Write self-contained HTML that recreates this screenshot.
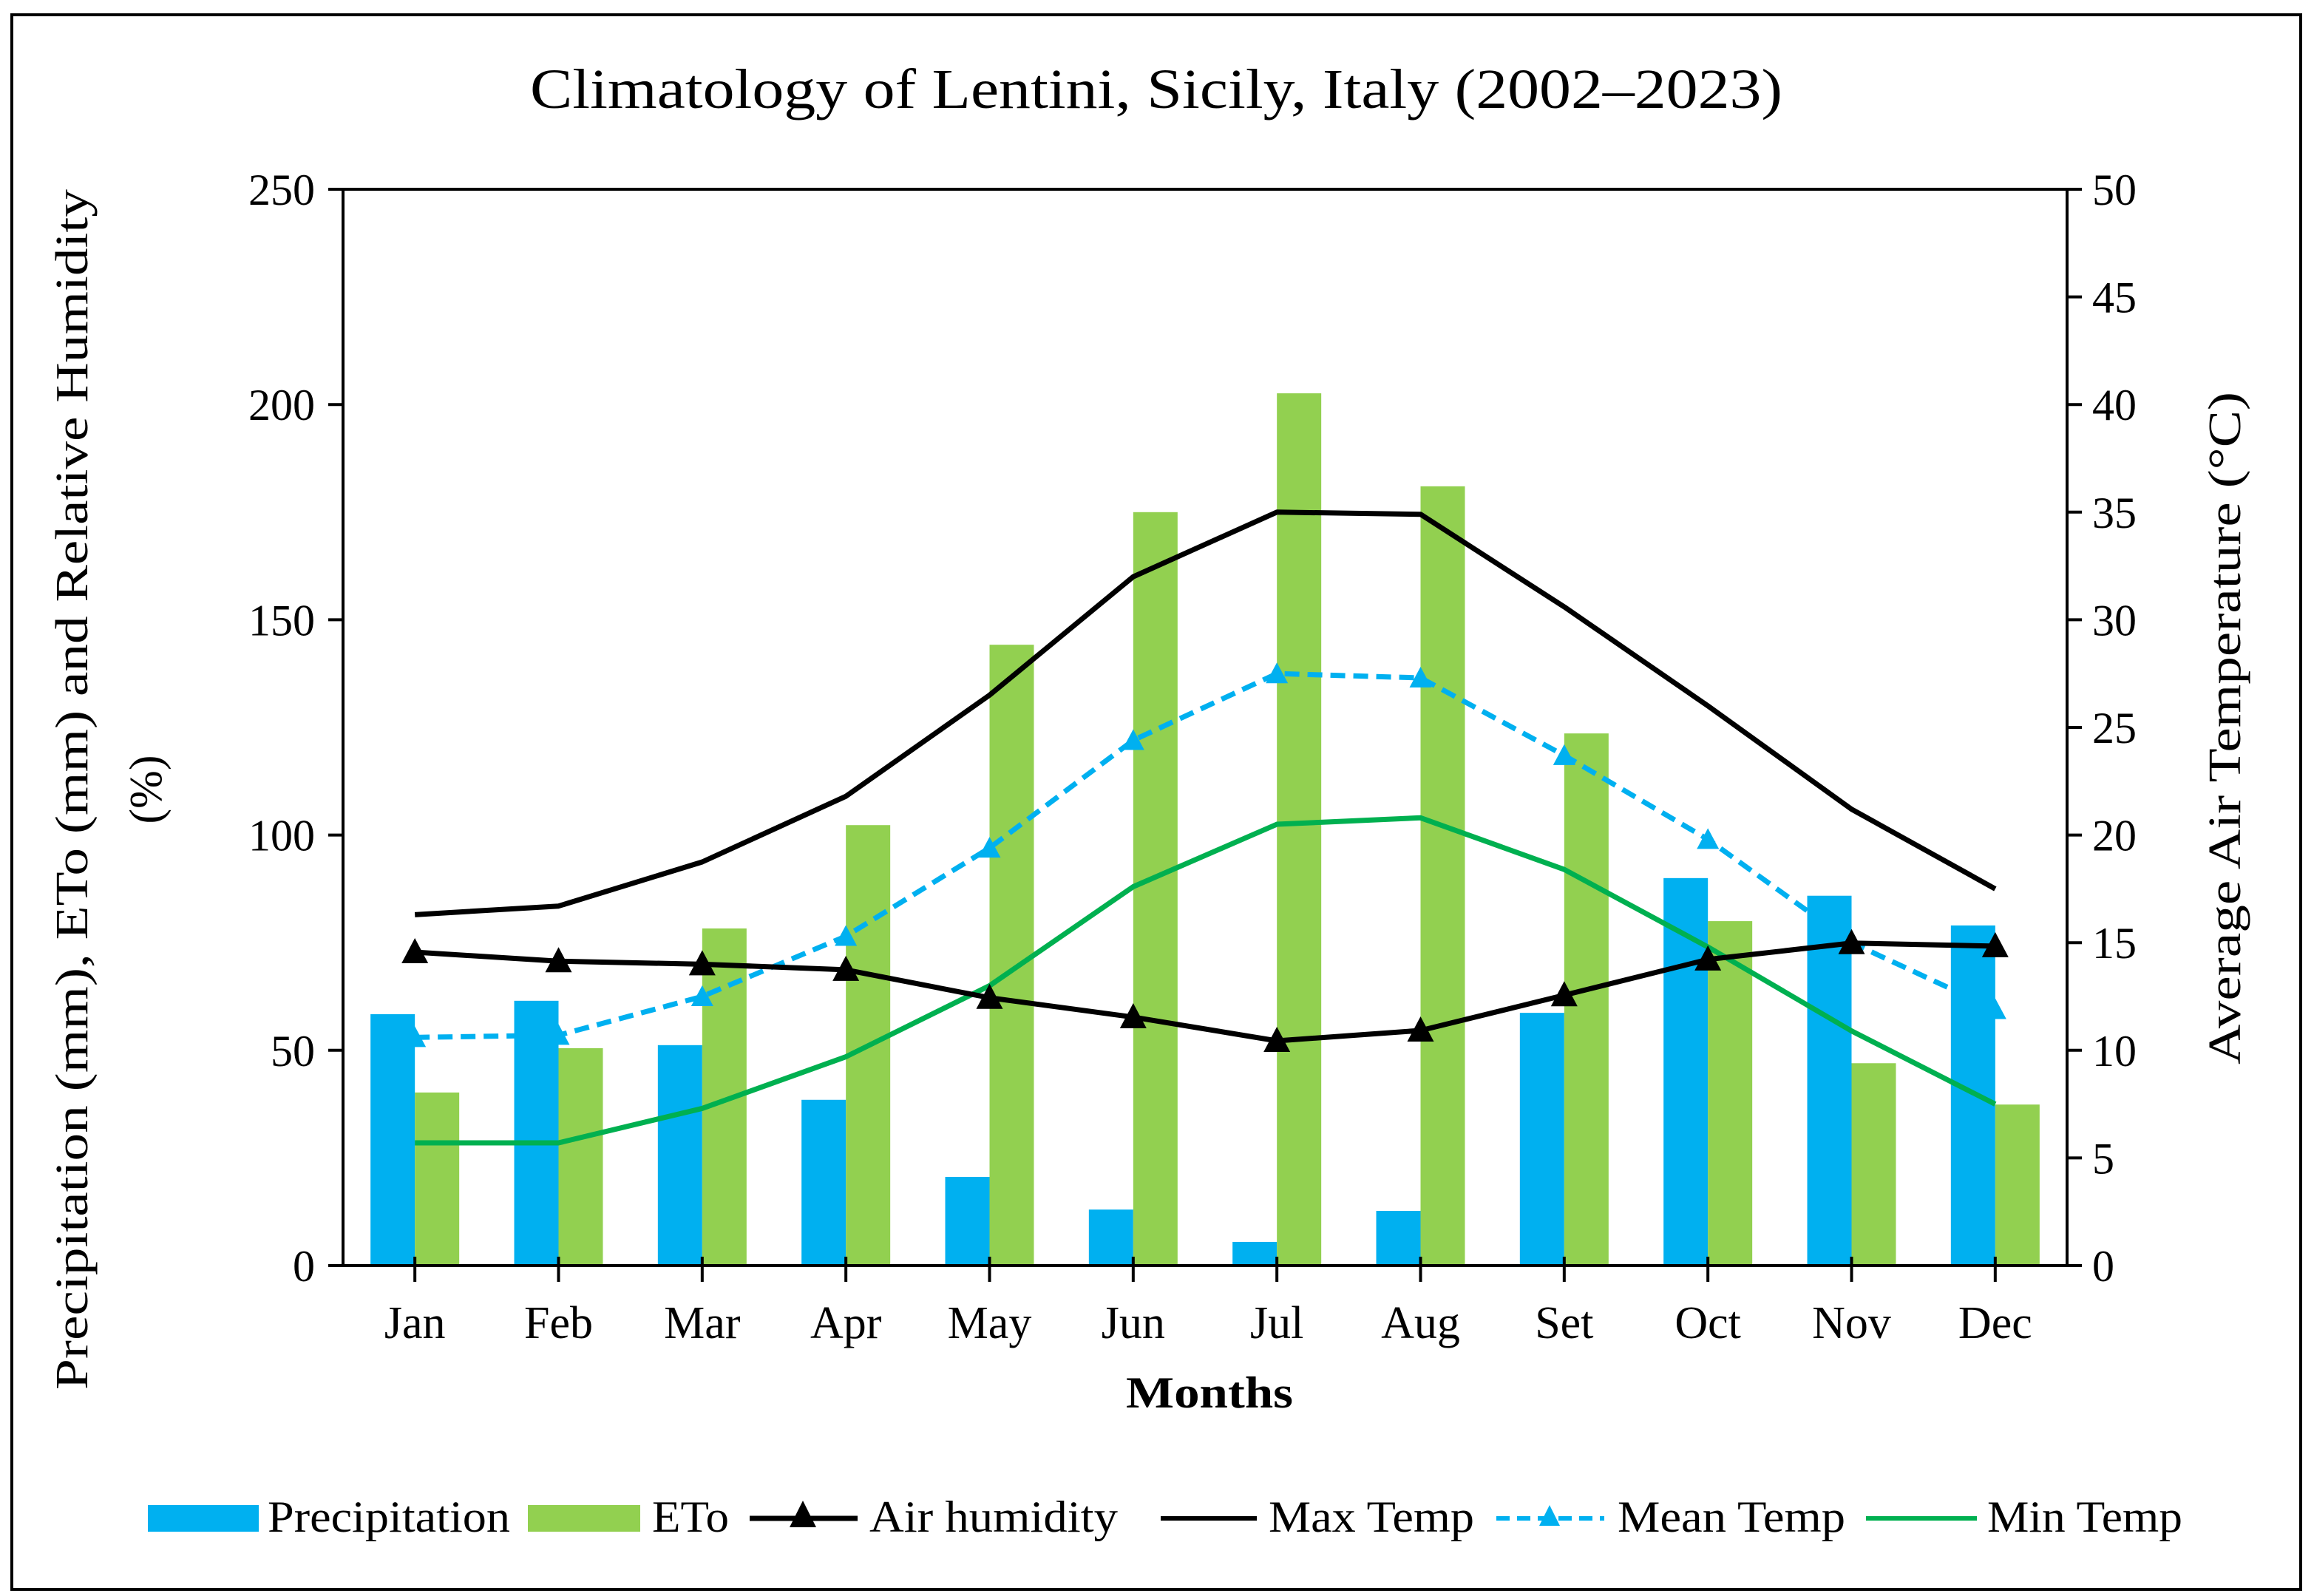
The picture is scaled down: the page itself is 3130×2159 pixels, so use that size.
<!DOCTYPE html>
<html><head><meta charset="utf-8"><style>
html,body{margin:0;padding:0;background:#fff}
svg{display:block;font-family:"Liberation Serif",serif}
</style></head><body>
<svg id="chart" width="3130" height="2159" viewBox="0 0 3130 2159" xmlns="http://www.w3.org/2000/svg">
<rect x="16" y="20" width="3096" height="2130" fill="#fff" stroke="#000" stroke-width="4"/>
<text x="1564" y="146" font-size="76" text-anchor="middle" textLength="1694" lengthAdjust="spacingAndGlyphs">Climatology of Lentini, Sicily, Italy (2002–2023)</text>
<g id="plot"></g>
<text transform="translate(118,1068) rotate(-90)" font-size="62" text-anchor="middle" textLength="1624" lengthAdjust="spacingAndGlyphs">Precipitation (mm), ETo (mm) and Relative Humidity</text>
<text transform="translate(218,1068) rotate(-90)" font-size="62" text-anchor="middle">(%)</text>
<text transform="translate(3030,985) rotate(-90)" font-size="62" text-anchor="middle" textLength="910" lengthAdjust="spacingAndGlyphs">Average Air Temperature (°C)</text>
<text x="1636" y="1904" font-size="60" font-weight="bold" text-anchor="middle" textLength="226" lengthAdjust="spacingAndGlyphs">Months</text>
<g font-size="60">
<rect x="200" y="2036" width="150" height="36" fill="#00B0F0"/>
<text x="362" y="2072" textLength="328" lengthAdjust="spacingAndGlyphs">Precipitation</text>
<rect x="714" y="2036" width="152" height="36" fill="#92D050"/>
<text x="882" y="2072" textLength="104" lengthAdjust="spacingAndGlyphs">ETo</text>
<line x1="1014" y1="2054" x2="1160" y2="2054" stroke="#000" stroke-width="7"/>
<path d="M1086 2030 L1104 2066 L1068 2066 Z" fill="#000"/>
<text x="1176" y="2072" textLength="336" lengthAdjust="spacingAndGlyphs">Air humidity</text>
<line x1="1570" y1="2054" x2="1700" y2="2054" stroke="#000" stroke-width="6"/>
<text x="1716" y="2072" textLength="278" lengthAdjust="spacingAndGlyphs">Max Temp</text>
<line x1="2024" y1="2054" x2="2170" y2="2054" stroke="#00B0F0" stroke-width="6" stroke-dasharray="18,10"/>
<path d="M2096 2036 L2110 2064 L2082 2064 Z" fill="#00B0F0"/>
<text x="2188" y="2072" textLength="308" lengthAdjust="spacingAndGlyphs">Mean Temp</text>
<line x1="2524" y1="2054" x2="2674" y2="2054" stroke="#00B050" stroke-width="6"/>
<text x="2688" y="2072" textLength="264" lengthAdjust="spacingAndGlyphs">Min Temp</text>
</g>
</svg>
<script>
const months=["Jan","Feb","Mar","Apr","May","Jun","Jul","Aug","Set","Oct","Nov","Dec"];
const precipitation=[58.4,61.5,51.2,38.5,20.6,13,5.5,12.7,58.7,90,85.9,79];
const eto=[40.2,50.5,78.3,102.3,144.2,175,202.6,181,123.6,80,47,37.4];
const humidity=[72.8,70.7,70,68.7,62.2,57.7,52.2,54.6,62.8,71.1,74.9,74.2];
const maxTemp=[16.3,16.7,18.75,21.8,26.5,32,35,34.9,30.6,26,21.2,17.5];
const meanTemp=[10.6,10.7,12.5,15.3,19.4,24.4,27.5,27.3,23.7,19.8,15,11.9];
const minTemp=[5.7,5.7,7.3,9.7,13,17.6,20.5,20.8,18.4,14.8,10.9,7.5];
const leftTicks=[0,50,100,150,200,250];
const rightTicks=[0,5,10,15,20,25,30,35,40,45,50];

const NS="http://www.w3.org/2000/svg";
const L=464,R=2796,T=256,B=1712;
const cw=(R-L)/months.length;
const xc=i=>L+cw*(i+0.5);
const yl=v=>B-(v/250)*(B-T);
const yr=v=>B-(v/50)*(B-T);
const g=document.getElementById('plot');
function mk(tag,attrs,parent){const e=document.createElementNS(NS,tag);for(const k in attrs)e.setAttribute(k,attrs[k]);(parent||g).appendChild(e);return e;}
const bw=60;
precipitation.forEach((v,i)=>{
 const r=mk('rect',{x:xc(i)-bw,y:yl(v),width:bw,height:B-yl(v),fill:'#00B0F0'});
 
 
});
eto.forEach((v,i)=>{
 const r=mk('rect',{x:xc(i),y:yl(v),width:bw,height:B-yl(v),fill:'#92D050'});
 
 
});
function line(arr,yf,color,w,dash,name){
 const p=mk('polyline',{points:arr.map((v,i)=>xc(i)+','+yf(v)).join(' '),fill:'none',stroke:color,'stroke-width':w,'stroke-linejoin':'round'});
 if(dash)p.setAttribute('stroke-dasharray',dash);
 
 
}
line(maxTemp,yr,'#000',7,null,'max-temp-line');
line(minTemp,yr,'#00B050',7,null,'min-temp-line');
line(meanTemp,yr,'#00B0F0',7,'20,11','mean-temp-line');
meanTemp.forEach((v,i)=>{const x=xc(i),y=yr(v);
 const m=mk('path',{d:`M${x} ${y-15} L${x+15} ${y+13} L${x-15} ${y+13} Z`,fill:'#00B0F0'});
 
 
});
line(humidity,yl,'#000',7,null,'air-humidity-line');
humidity.forEach((v,i)=>{const x=xc(i),y=yl(v);
 const m=mk('path',{d:`M${x} ${y-19} L${x+18} ${y+15} L${x-18} ${y+15} Z`,fill:'#000'});
 
 
});
const ax=mk('g',{stroke:'#000','stroke-width':4});


mk('line',{x1:L,y1:T,x2:L,y2:B+2},ax);
mk('line',{x1:R,y1:T,x2:R,y2:B+2},ax);
mk('line',{x1:L,y1:T,x2:R,y2:T},ax);
mk('line',{x1:L-2,y1:B,x2:R+2,y2:B},ax);
leftTicks.forEach(v=>{
 mk('line',{x1:L-20,y1:yl(v),x2:L,y2:yl(v)},ax);
 const t=mk('text',{x:L-38,y:yl(v)+21,'font-size':60,'text-anchor':'end'});
 t.textContent=v;
 
 
});
rightTicks.forEach(v=>{
 mk('line',{x1:R,y1:yr(v),x2:R+20,y2:yr(v)},ax);
 const t=mk('text',{x:R+34,y:yr(v)+21,'font-size':60});
 t.textContent=v;
 
 
});
months.forEach((m,i)=>{
 mk('line',{x1:xc(i),y1:B-12,x2:xc(i),y2:B+22},ax);
 const t=mk('text',{x:xc(i),y:B+98,'font-size':62,'text-anchor':'middle'});
 t.textContent=m;
 
 
});
</script>
</body></html>
